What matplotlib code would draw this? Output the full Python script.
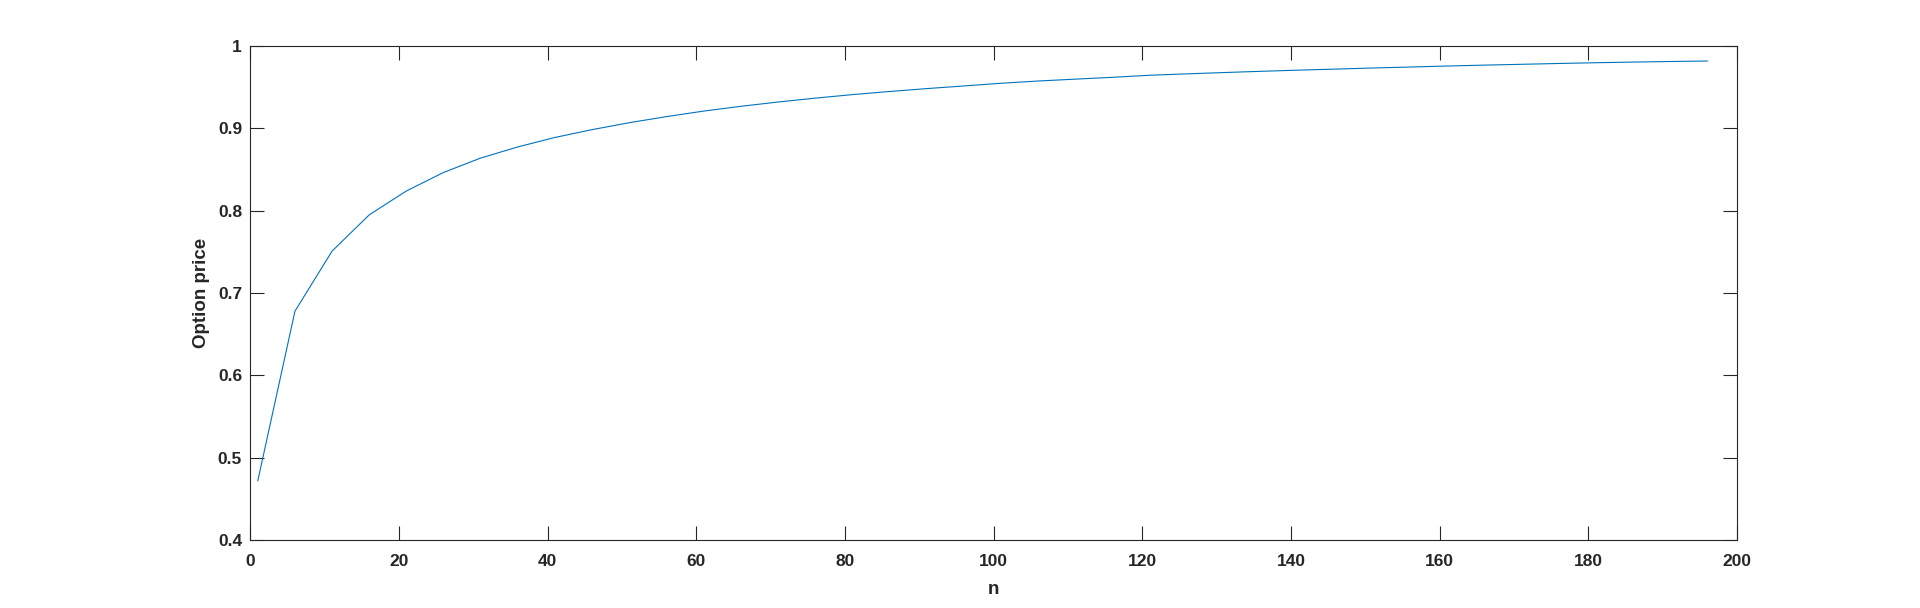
import matplotlib
matplotlib.use("Agg")
import matplotlib.pyplot as plt

# number of steps n (every 5th value from 1 to 196)
n_steps = list(range(1, 197, 5))

# option price for each n
option_price = [
    0.4720, 0.6780, 0.7510, 0.7950, 0.8240, 0.8465, 0.8640, 0.8775, 0.8890, 0.8985,
    0.9069, 0.9143, 0.9210, 0.9268, 0.9320, 0.9367, 0.9410, 0.9448, 0.9483, 0.9515,
    0.9548, 0.9575, 0.9598, 0.9620, 0.9645, 0.9662, 0.9678, 0.9693, 0.9707, 0.9720,
    0.9733, 0.9745, 0.9757, 0.9768, 0.9778, 0.9788, 0.9797, 0.9805, 0.9812, 0.9818,
]

x_ticks = [0, 20, 40, 60, 80, 100, 120, 140, 160, 180, 200]
y_ticks = [0.4, 0.5, 0.6, 0.7, 0.8, 0.9, 1.0]
y_tick_labels = ["0.4", "0.5", "0.6", "0.7", "0.8", "0.9", "1"]

AX_COLOR = "#262626"
LINE_COLOR = "#0072BD"

plt.rcParams["font.family"] = ["Liberation Sans", "DejaVu Sans"]
plt.rcParams["font.weight"] = "bold"

fig = plt.figure(figsize=(19.2, 6.08), dpi=100)
ax = fig.add_axes([0.1304, 0.1118, 0.9047 - 0.1304, 0.9243 - 0.1118])

ax.plot(n_steps, option_price, color=LINE_COLOR, lw=0.8)

ax.set_xlim(0, 200)
ax.set_ylim(0.4, 1.0)
ax.set_xticks(x_ticks)
ax.set_xticklabels([str(t) for t in x_ticks])
ax.set_yticks(y_ticks)
ax.set_yticklabels(y_tick_labels)

for side in ax.spines.values():
    side.set_color(AX_COLOR)
    side.set_linewidth(0.8)

ax.tick_params(axis="both", direction="in", length=10, width=0.8, color=AX_COLOR,
               labelcolor=AX_COLOR, labelsize=12.5, top=True, right=True)
ax.tick_params(axis="x", pad=10)
ax.tick_params(axis="y", pad=6)

ax.set_xlabel("n", fontsize=13.5, fontweight="bold", color=AX_COLOR)
ax.set_ylabel("Option price", fontsize=13.5, fontweight="bold", color=AX_COLOR)
ax.xaxis.set_label_coords(0.5, -0.0992)
ax.xaxis.label.set_va("center")
ax.yaxis.set_label_coords(-0.0332, 0.5)
ax.yaxis.label.set_va("center")

fig.savefig("out.png", dpi=100)
